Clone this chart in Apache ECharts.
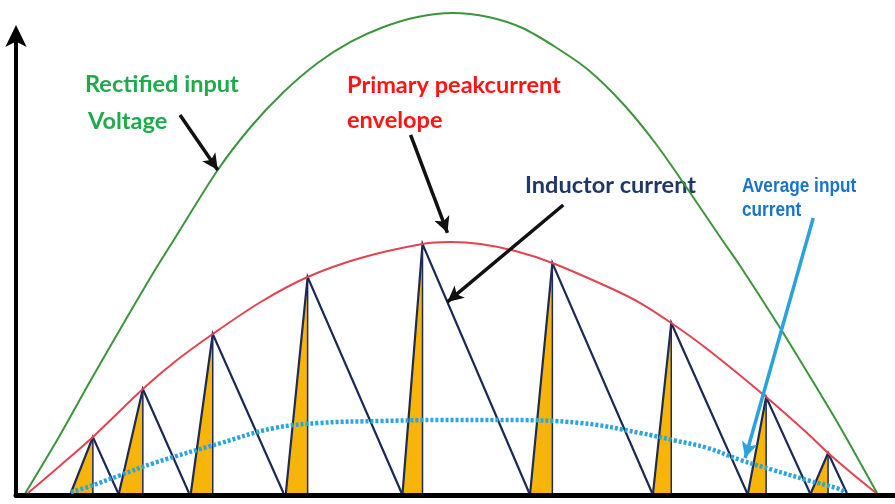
<!DOCTYPE html>
<html>
<head>
<meta charset="utf-8">
<script src="https://cdn.jsdelivr.net/npm/echarts@6/dist/echarts.min.js"></script>
<style>html,body{margin:0;padding:0;background:#fff}#c{width:895px;height:504px}</style>
</head>
<body>
<div id="c"></div>
<script>
// x: phase angle of the half line cycle (degrees); y: % of rectified voltage peak
const greenX = [0, 7.08, 13.84, 20.19, 27.16, 31.39, 40.69, 47.66, 54.64, 61.83, 68.80, 75.78, 82.96, 90.36, 97.97, 105.16, 112.13, 119.11, 126.30, 133.27, 140.25, 147.43, 151.24, 159.69, 165.40, 172.37, 180.19];
const greenY = [0, 11.67, 23.54, 34.38, 46.04, 52.71, 67.29, 76.25, 83.54, 89.58, 93.96, 97.08, 99.17, 100, 99.17, 96.88, 92.92, 88.13, 81.25, 72.92, 63.13, 52.71, 47.29, 34.38, 25.21, 13.75, 0];

const redX = [0.53, 7.50, 14.27, 24.84, 31.81, 39.63, 49.78, 59.71, 70.92, 84.02, 89.94, 96.28, 103.68, 111.50, 123.76, 130.10, 136.66, 144.26, 156.73, 165.40, 169.84, 175.55, 179.99];
const redY = [0, 5.83, 11.67, 21.67, 27.5, 33.13, 39.79, 45.0, 48.96, 51.88, 52.29, 51.88, 50.42, 47.92, 42.71, 39.58, 35.42, 30.0, 20.0, 12.5, 8.33, 3.54, 0];

const avgX = [9.6, 13.2, 20.2, 27.2, 41.3, 52.5, 62.5, 75.1, 87.8, 100.5, 117.4, 130.1, 137.1, 144.3, 151.2, 158.2, 165.4, 171.7, 173.4];
const avgY = [0.2, 1.25, 3.75, 6.25, 10.4, 13.5, 14.6, 15.0, 15.2, 15.2, 14.6, 12.5, 11.0, 9.4, 6.9, 4.8, 2.7, 1.0, 0.2];

// inductor current switching cycles
const triStart = [9.6, 19.8, 35.0, 55.1, 79.8, 106.8, 132.8, 152.9, 166.2];
const triPeakX = [14.27, 24.84, 39.63, 59.71, 84.02, 111.5, 136.66, 156.73, 169.84];
const triPeakY = [11.67, 21.67, 33.13, 45.0, 51.88, 47.92, 35.42, 20.0, 8.33];
const triEnd   = [19.6, 34.6, 54.6, 79.6, 106.6, 132.6, 152.7, 166.0, 173.8];

// annotation arrows [fromX, fromY, toX, toY]
const arrowGreen = [32.7, 78.75, 40.7, 67.3];
const arrowRed = [81.5, 74.6, 89.3, 54.2];
const arrowInductor = [113.8, 60.0, 89.3, 39.8];
const arrowAvg = [166.7, 57.3, 152.3, 7.3];

const zip = (a, b) => a.map((v, i) => [v, b[i]]);
const triData = triStart.map((v, i) => [v, triPeakX[i], triPeakY[i], triEnd[i]]);

const NAVY = '#1B2A57';
const chart = echarts.init(document.getElementById('c'));
const arrowLine = (a, color) => [
  { coord: [a[0], a[1]], lineStyle: { color: color } },
  { coord: [a[2], a[3]] }
];
const calibriLike = (txt, x, y, color) => ({
  type: 'text', x: x, y: y, scaleX: 1.07,
  style: { text: txt, font: 'bold 22px Lato', fill: color, verticalAlign: 'middle' }
});
const narrow = (txt, x, y) => ({
  type: 'text', x: x, y: y, scaleX: 0.82,
  style: { text: txt, font: 'bold 21px "Liberation Sans"', fill: '#1A74C9', verticalAlign: 'middle' }
});

chart.setOption({
  animation: false,
  backgroundColor: '#ffffff',
  grid: [
    { left: 16, right: 0, top: 13, bottom: 11 },
    { left: 16, right: 0, top: 33, bottom: 8.5 }
  ],
  xAxis: [
    { gridIndex: 0, type: 'value', min: -2, max: 184, show: false },
    { gridIndex: 1, type: 'value', min: 0, max: 1, axisLine: { show: true, onZero: false, lineStyle: { color: '#000', width: 5 } },
      axisTick: { show: false }, axisLabel: { show: false }, splitLine: { show: false } }
  ],
  yAxis: [
    { gridIndex: 0, type: 'value', min: 0, max: 100, show: false },
    { gridIndex: 1, type: 'value', min: 0, max: 1,
      axisLine: { show: true, onZero: false, symbol: ['none', 'arrow'], symbolSize: [16, 22], symbolOffset: [0, 8], lineStyle: { color: '#000', width: 4 } },
      axisTick: { show: false }, axisLabel: { show: false }, splitLine: { show: false } }
  ],
  series: [
    {
      type: 'custom', xAxisIndex: 0, yAxisIndex: 0, z: 2,
      encode: { x: [0, 1, 3], y: 2 },
      data: triData,
      renderItem: function (params, api) {
        const x0 = api.value(0), xp = api.value(1), yp = api.value(2), x1 = api.value(3);
        const a = api.coord([x0, 0]), b = api.coord([xp, yp]), c = api.coord([xp, 0]), d = api.coord([x1, 0]);
        return {
          type: 'group',
          children: [
            { type: 'polygon', shape: { points: [a, b, c] }, style: { fill: '#F7B50A', stroke: null } },
            { type: 'line', shape: { x1: b[0], y1: b[1], x2: c[0], y2: c[1] }, style: { stroke: NAVY, lineWidth: 1.5 } },
            { type: 'polyline', shape: { points: [a, b, d] }, style: { stroke: NAVY, lineWidth: 2.2, fill: null, lineJoin: 'miter' } }
          ]
        };
      }
    },
    {
      type: 'line', name: 'Primary peak current envelope', data: zip(redX, redY), smooth: 0.3, showSymbol: false, z: 3,
      lineStyle: { color: '#E2434E', width: 2 }
    },
    {
      type: 'line', name: 'Rectified input voltage', data: zip(greenX, greenY), smooth: 0.3, showSymbol: false, z: 3,
      lineStyle: { color: '#3A963A', width: 2 }
    },
    {
      type: 'line', name: 'Average input current', data: zip(avgX, avgY), smooth: 0.4, showSymbol: false, z: 4,
      lineStyle: { color: '#2CA5DE', width: 4.5, type: [3, 2] }
    },
    {
      type: 'line', data: [], z: 6,
      markLine: {
        silent: true, symbol: ['none', 'arrow'], symbolSize: [12, 16], animation: false,
        label: { show: false },
        lineStyle: { type: 'solid', width: 3.5, color: '#111' },
        data: [
          arrowLine(arrowGreen, '#111'),
          arrowLine(arrowRed, '#111'),
          arrowLine(arrowInductor, '#111'),
          arrowLine(arrowAvg, '#2AA3DD')
        ]
      }
    }
  ],
  graphic: [
    calibriLike('Rectified input', 85, 85, '#1FAA4B'),
    calibriLike('Voltage', 88, 122, '#1FAA4B'),
    calibriLike('Primary peakcurrent', 347, 86, '#FF1414'),
    calibriLike('envelope', 347, 121, '#FF1414'),
    calibriLike('Inductor current', 525, 186, '#1F3868'),
    narrow('Average input', 742, 186.5),
    narrow('current', 742, 210.5)
  ]
});
</script>
</body>
</html>
